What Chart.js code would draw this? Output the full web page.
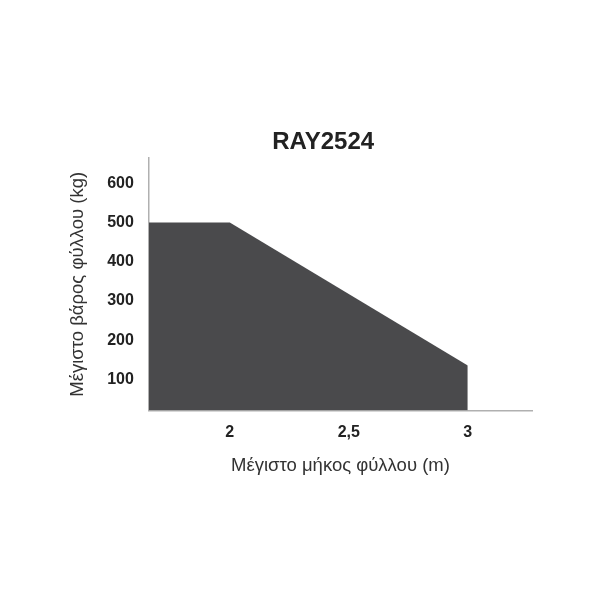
<!DOCTYPE html>
<html>
<head>
<meta charset="utf-8">
<script src="https://cdn.jsdelivr.net/npm/chart.js@4"></script>
<style>
  body { margin: 0; background: #fff; }
  #wrap { position: absolute; left: 62px; top: 118px; width: 520px; height: 359px; }
</style>
</head>
<body>
<div id="wrap"><canvas id="c"></canvas></div>
<script>
const mikos = [1.66, 2, 3, 3];          // Μέγιστο μήκος φύλλου (m)
const varos = [500, 500, 135, 0];       // Μέγιστο βάρος φύλλου (kg)
const xTicks = [2, 2.5, 3];
const yTicks = [100, 200, 300, 400, 500, 600];
const chartTitle = "RAY2524";

const FONT = "'Liberation Sans', Arial, sans-serif";

// title sits a bit left of the plot centre in the original, so draw it by hand
const titlePlugin = {
    id: "leftTitle",
    afterDraw(chart) {
        const ctx = chart.ctx;
        const area = chart.chartArea;
        ctx.save();
        ctx.font = "bold 24px " + FONT;
        ctx.fillStyle = "#222";
        ctx.textAlign = "center";
        ctx.textBaseline = "middle";
        ctx.fillText(chartTitle, area.left + (area.right - area.left) * 0.455, area.top - 16);
        ctx.restore();
    }
};

new Chart(document.getElementById("c"), {
    type: "line",
    data: {
        datasets: [
            {
                data: mikos.map((x, i) => ({ x: x, y: varos[i] })),
                backgroundColor: "#4a4a4c",
                borderWidth: 0,
                pointRadius: 0,
                fill: "origin",
                tension: 0
            }
        ]
    },
    options: {
        responsive: true,
        maintainAspectRatio: false,
        animation: false,
        layout: { padding: { top: 40, right: 50 } },
        plugins: {
            legend: { display: false },
            tooltip: { enabled: false },
            title: { display: false }
        },
        scales: {
            x: {
                type: "linear",
                min: 1.66,
                max: 3.27,
                afterBuildTicks: axis => { axis.ticks = xTicks.map(v => ({ value: v })); },
                grid: { display: false, drawTicks: false },
                border: { color: "#b0b0b0", width: 1.5 },
                ticks: {
                    padding: 12,
                    color: "#222",
                    font: { family: FONT, size: 16, weight: "bold" },
                    callback: v => String(v).replace(".", ",")
                },
                title: {
                    display: true,
                    text: "Μέγιστο μήκος φύλλου (m)",
                    color: "#333",
                    font: { family: FONT, size: 18.5 },
                    padding: { top: 1, bottom: 0 }
                }
            },
            y: {
                min: 20,
                max: 665,
                afterBuildTicks: axis => { axis.ticks = yTicks.map(v => ({ value: v })); },
                grid: { display: false, drawTicks: false },
                border: { color: "#b0b0b0", width: 1.5 },
                ticks: {
                    padding: 15,
                    color: "#222",
                    font: { family: FONT, size: 16, weight: "bold" }
                },
                title: {
                    display: true,
                    text: "Μέγιστο βάρος φύλλου (kg)",
                    color: "#333",
                    font: { family: FONT, size: 18.5 },
                    padding: { top: 5, bottom: 3 }
                }
            }
        }
    },
    plugins: [titlePlugin]
});
</script>
</body>
</html>
